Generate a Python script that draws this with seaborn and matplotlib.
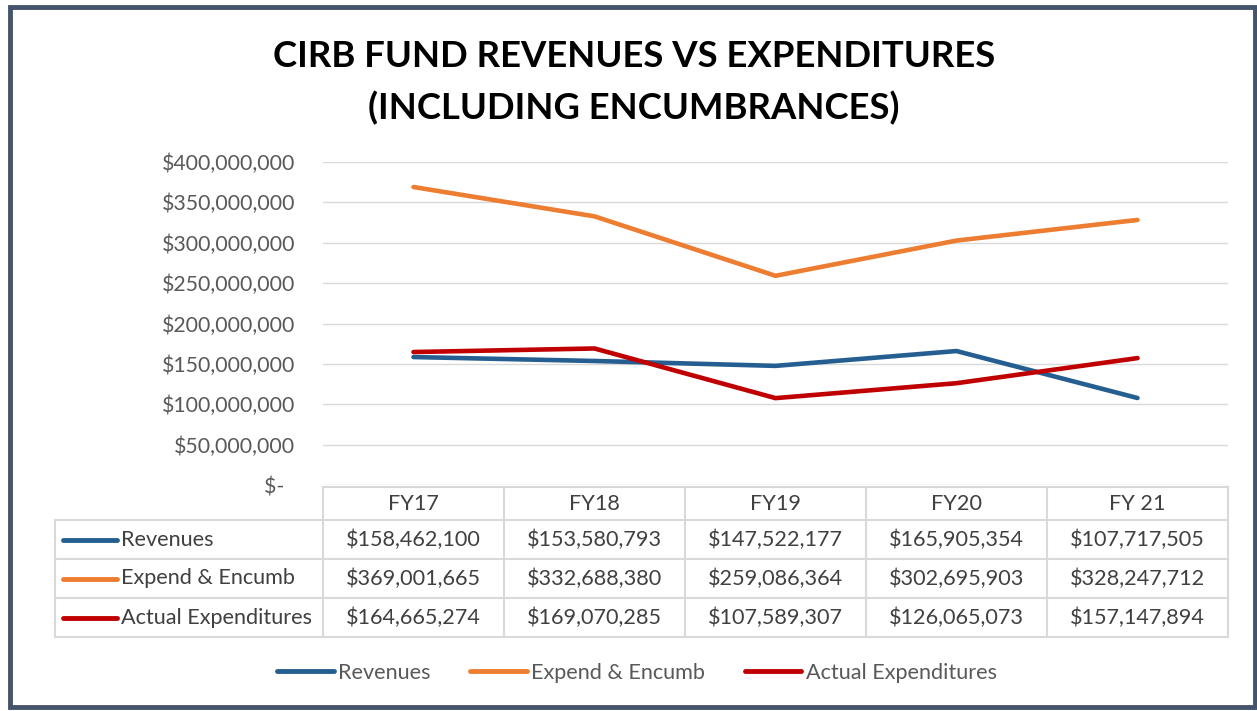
import pandas as pd
import seaborn as sns
import matplotlib.pyplot as plt
from matplotlib.lines import Line2D
from matplotlib.patches import Rectangle
from matplotlib.ticker import FuncFormatter

# Datos
anios = ['FY17', 'FY18', 'FY19', 'FY20', 'FY 21']
revenues = [158462100, 153580793, 147522177, 165905354, 107717505]
expend_encumb = [369001665, 332688380, 259086364, 302695903, 328247712]
actual_exp = [164665274, 169070285, 107589307, 126065073, 157147894]
series = ['Revenues', 'Expend & Encumb', 'Actual Expenditures']
colores = ['#255E91', '#ED7D31', '#C00000']

df = pd.DataFrame({
    'anio': anios * 3,
    'pos': list(range(len(anios))) * 3,
    'serie': [s for s in series for _ in anios],
    'valor': revenues + expend_encumb + actual_exp,
})

sns.set_style('white')
plt.rcParams['font.family'] = ['Lato', 'DejaVu Sans']

W, H = 1257, 711
fig = plt.figure(figsize=(W / 100, H / 100), dpi=100)

def fx(px):
    return px / W

def fy(py):
    return 1 - py / H

# Marco del grafico
fig.add_artist(Rectangle((fx(10), fy(707)), fx(1245), 700 / H, transform=fig.transFigure,
                         fill=False, edgecolor='#44546A', lw=3.5))

# Area de grafico
x0, x1, ytop, ybot = 323, 1228, 162, 485
ax = fig.add_axes([fx(x0), fy(ybot), fx(x1 - x0), (ybot - ytop) / H])
sns.lineplot(data=df, x='pos', y='valor', hue='serie', palette=colores,
             linewidth=3.3, legend=False, ax=ax, solid_capstyle='round')
ax.set_xlim(-0.5, len(anios) - 0.5)
ax.set_ylim(0, 400000000)
ax.set_yticks(range(0, 400000001, 50000000))
# formato contable: "$-" queda corrido a la izquierda
ax.yaxis.set_major_formatter(FuncFormatter(lambda v, p: '$-  ' if v == 0 else f'${v:,.0f}'))
ax.tick_params(axis='y', labelsize=15.3, labelcolor='#595959', length=0, pad=20)
ax.set_xticks([])
ax.set_xlabel('')
ax.set_ylabel('')
ax.grid(axis='y', color='#D9D9D9', lw=1)
for s in ax.spines.values():
    s.set_visible(False)

fig.suptitle('CIRB FUND REVENUES VS EXPENDITURES\n(INCLUDING ENCUMBRANCES)',
             x=fx(634), y=fy(40), fontsize=26.3, fontweight='bold', color='black',
             va='top', linespacing=1.62)

# Tabla de datos
grid_c = '#D9D9D9'
col_x = [x0 + i * (x1 - x0) / len(anios) for i in range(len(anios) + 1)]
filas_y = [487, 520, 559, 598, 637]
left_x = 55

def hline(xa, xb, y):
    fig.add_artist(Line2D([fx(xa), fx(xb)], [fy(y), fy(y)], color=grid_c, lw=1.5))

def vline(x, ya, yb):
    fig.add_artist(Line2D([fx(x), fx(x)], [fy(ya), fy(yb)], color=grid_c, lw=1.5))

hline(x0, x1, filas_y[0])
for y in filas_y[1:]:
    hline(left_x, x1, y)
for x in col_x:
    vline(x, filas_y[0], filas_y[-1])
vline(left_x, filas_y[1], filas_y[-1])

txt = dict(fontsize=15.6, color='#404040', va='center')
for i, a in enumerate(anios):
    cx = (col_x[i] + col_x[i + 1]) / 2
    fig.text(fx(cx), fy((filas_y[0] + filas_y[1]) / 2), a, ha='center', **txt)

valores = [revenues, expend_encumb, actual_exp]
for r, (nombre, col, vals) in enumerate(zip(series, colores, valores)):
    cy = (filas_y[r + 1] + filas_y[r + 2]) / 2
    fig.add_artist(Line2D([fx(63), fx(117)], [fy(cy), fy(cy)], color=col, lw=3.5,
                          solid_capstyle='round'))
    fig.text(fx(121), fy(cy), nombre, ha='left', **txt)
    for i, v in enumerate(vals):
        cx = (col_x[i] + col_x[i + 1]) / 2
        fig.text(fx(cx), fy(cy), f'${v:,.0f}', ha='center', **txt)

# Leyenda inferior
handles = [Line2D([0], [0], color=c, lw=3.5, solid_capstyle='round') for c in colores]
fig.legend(handles, series, loc='center', bbox_to_anchor=(fx(637), fy(673)), ncol=3,
           frameon=False, fontsize=15.6, labelcolor='#595959', handlelength=2.6,
           handletextpad=0.2, columnspacing=1.85)

fig.savefig('out.png', dpi=100)
